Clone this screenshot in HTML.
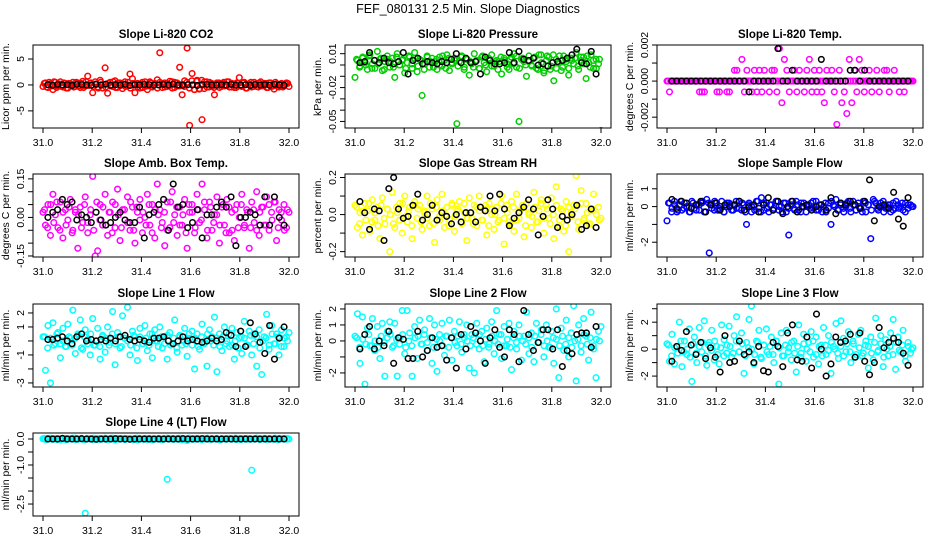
<!DOCTYPE html>
<html><head><meta charset="utf-8">
<style>
html,body{margin:0;padding:0;background:#fff;}
svg{display:block;font-family:"Liberation Sans",Arial,sans-serif;}
</style></head>
<body>
<svg id="chart" width="936" height="540" viewBox="0 0 936 540" xmlns="http://www.w3.org/2000/svg">
<text x="468" y="13" text-anchor="middle" font-size="12.5">FEF_080131  2.5 Min. Slope Diagnostics</text>
</svg>
<script>
const xTicks = [31.0,31.2,31.4,31.6,31.8,32.0];
const xTickLabels = ["31.0","31.2","31.4","31.6","31.8","32.0"];

const p1c = [-0.3,0.4,-0.5,0.2,-0.9,0.5,-0.2,0.6,-0.4,0.3,-0.6,0.2,0.5,-0.3,0.4,-0.5,0.7,-0.2,1.7,0.3,-1.5,0.6,-0.4,0.9,-0.6,3.3,-1.6,0.5,-0.3,0.8,-0.5,0.4,-0.7,0.6,-0.2,2.1,1.2,-1.5,0.3,-0.6,0.5,-0.3,-0.9,0.6,-0.4,0.3,1.0,6.2,-0.5,0.4,-0.3,0.7,-0.6,0.5,-0.2,3.4,-1.9,0.8,7.1,-7.8,2.2,-0.9,0.9,-0.7,-6.7,0.6,-0.4,0.5,-0.3,-1.9,0.4,-0.5,0.3,-0.2,0.6,-0.4,0.3,-0.5,0.4,1.4,-0.3,0.5,-0.6,0.2,-0.4,0.5,-0.3,0.4,-0.2,0.3,-0.5,0.4,-0.3,-0.8,0.2,-0.4,0.3,-0.2,0.4,-0.3];
const p1core = [0.3,-0.4,0.5,-0.2,0.6,-0.5,0.2,-0.3,0.4,-0.6,0.3,0.1,-0.4,0.5,-0.2,0.3,-0.5,0.6,-0.1,0.4,-0.3,0.2,-0.6,0.5,0.1,-0.4,0.3,-0.2,0.6,-0.5,0.4,-0.1,0.2,-0.3,0.5,-0.6,0.3,0.1,-0.4,0.2,-0.5,0.6,-0.2,0.4,-0.3,0.1,-0.6,0.5,0.2,-0.4,0.3,-0.1,0.6,-0.5,0.4,-0.2,0.1,-0.3,0.5,-0.6,0.8,-0.9,0.7,-0.8,0.9,-0.7,0.6,-0.4,0.3,-0.5,0.2,0.4,-0.3,0.5,-0.1,0.6,-0.4,0.2,-0.5,0.3,-0.2,0.4,-0.6,0.1,0.5,-0.3,0.2,-0.4,0.6,-0.1,0.3,-0.5,0.4,-0.2,0.5,-0.3,0.1,-0.4,0.2,0.3];
const p1k = [0.05,-0.05,0.1,0,0.05,-0.1,0.1,0.05,0,-0.05,0.1,0,0.15,-0.05,0.05,0,0.1,-0.1,0.05,0,0.1,0.05,-0.05,0,0.1,0,0.15,0,-0.05,0.05,0,-0.1,0.05,0.1,0,-0.05,0.05,0,0.1,-0.05,0,0.05,-0.1,0.05,0,0.05,-0.05,0.1,0,-0.05];

const p2c = [-0.011,0.004,-0.001,0.006,0.002,-0.004,0.009,0.001,-0.003,0.012,0.005,-0.005,0.003,0.008,-0.002,0.006,-0.011,0.010,0.000,0.004,-0.007,0.002,0.007,-0.003,0.011,-0.006,0.005,-0.027,0.001,0.008,-0.002,0.006,0.003,-0.004,0.007,-0.001,0.004,0.009,-0.005,0.002,0.006,-0.052,0.003,0.008,-0.002,0.005,-0.009,0.001,0.010,0.004,-0.003,0.007,0.002,-0.006,0.005,0.009,-0.001,0.004,0.003,-0.008,0.006,0.001,-0.004,0.007,0.010,-0.002,-0.050,0.005,0.003,-0.010,0.008,0.000,0.006,-0.003,0.009,0.002,-0.007,0.004,0.007,-0.001,-0.014,0.005,0.002,-0.005,0.008,0.003,-0.009,0.006,0.001,0.011,-0.004,0.004,0.007,-0.012,0.002,0.009,-0.003,0.005,0.001,-0.058];
const p2core = [0.005,-0.002,0.007,0.000,0.008,-0.003,0.004,0.001,0.006,-0.004,0.005,0.003,-0.002,0.007,0.000,0.005,-0.003,0.008,0.001,0.006,-0.001,0.004,-0.004,0.007,0.003,-0.002,0.005,0.000,0.008,-0.003,0.006,0.001,0.004,-0.001,0.007,-0.004,0.005,0.003,-0.002,0.004,-0.003,0.008,0.000,0.006,-0.001,0.003,-0.004,0.007,0.004,-0.002,0.005,0.001,0.008,-0.003,0.006,0.000,0.003,-0.001,0.007,-0.004,0.009,-0.005,0.008,-0.004,0.009,-0.003,0.008,-0.002,0.005,-0.003,0.004,0.006,-0.001,0.007,0.001,0.008,-0.002,0.004,-0.003,0.005];
const p2k = [0.002,0.003,0.011,0.004,0.002,0.006,0.002,0.001,0.003,0.011,-0.008,0.004,0.006,0.001,0.003,0.002,0.001,0.003,0.002,0.005,0.010,0.002,0.006,0.002,0.003,-0.008,0.007,0.004,0.001,0.001,0.002,0.011,0.002,0.012,0.005,0.004,0.006,0.000,0.001,-0.001,0.002,0.003,0.004,0.006,0.009,0.014,0.002,0.001,0.012,-0.008];

const p3c = [0,0,-0.0006,0,0,0,0,0,0,0,0,0,0,0,0,0,0,0,0,0,0,0,0,0,0,0,-0.0006,0,-0.0006,0,-0.0006,0,0,0,0,0,0,0,0,0,-0.0006,0,-0.0006,0,0,0,0,0,-0.0006,0,-0.0006,0,0,0,0.0006,0,0.0006,0,0,0,0.0012,0,-0.0006,0,0.0006,0,0,0,-0.0006,0,0.0006,0,-0.0006,0,0.0006,0,-0.0006,0,0.0006,0,0,0,-0.0006,0,0.0006,0,0.0006,0,-0.0006,0,0.0018,0,-0.0012,0,0.0012,0,0.0006,0,-0.0006,0,0,0,0.0006,0,-0.0006,0,0.0006,0,0,0,-0.0006,0,0.0006,0,0.0012,0,-0.0006,0,0.0006,0,-0.0006,0,0.0006,0,-0.0006,0,-0.0012,0,0.0006,0,0,0,0.0006,0,-0.0006,0,-0.0024,0,0.0006,0,-0.0012,0,-0.0006,0,-0.0018,0,0.0012,0,-0.0012,0,0.0006,0,-0.0006,0,0.0012,0,0.0006,0,-0.0006,0,0,0,0.0006,0,-0.0006,0,0,0,0.0006,0,-0.0006,0,0,0,0.0006,0,0.0006,0,-0.0006,0,0,0,0.0006,0,0,0,-0.0006,0,0,0,-0.0006,0,0,0,0,0,0,0];
const p3core = [];
const p3k = [0,0,0,0,0,0,0,0,0,0,0,0,0,0,0,0,-0.0006,0,0,0,0,0,0.0018,0,0,0.0006,0,0,0,0,0,0.0012,0,0,0,0,0,0.0006,0.0006,0,0.0006,0,0,0,0,0,0,0,0,0];

const p4c = [0.02,-0.03,0.05,-0.07,0.09,0.01,-0.04,0.06,-0.08,0.03,-0.01,0.07,-0.05,0.02,-0.12,0.04,-0.02,0.08,-0.06,0.01,0.16,-0.15,-0.13,0.05,-0.03,0.09,-0.07,0.02,0.06,-0.04,0.11,-0.09,0.03,-0.01,0.08,-0.05,0.04,-0.10,0.02,0.07,-0.06,0.00,0.09,-0.03,0.05,-0.08,0.13,0.03,-0.02,-0.11,0.06,-0.04,0.10,0.01,-0.07,0.04,-0.03,0.07,-0.12,0.02,0.05,-0.06,0.09,-0.02,0.13,0.03,-0.08,0.06,-0.05,0.01,0.08,-0.10,0.04,-0.03,0.07,-0.06,0.02,-0.09,0.05,0.00,0.09,-0.04,0.03,-0.12,0.06,-0.02,0.10,-0.07,0.04,-0.03,0.08,-0.05,0.02,0.06,-0.09,0.03,-0.01,0.05,-0.04,0.02];
const p4core = [0.03,-0.04,0.05,-0.02,0.06,-0.05,0.02,-0.03,0.04,-0.06,0.03,0.01,-0.04,0.05,-0.02,0.03,-0.05,0.06,-0.01,0.04,-0.03,0.02,-0.06,0.05,0.01,-0.04,0.03,-0.02,0.06,-0.05,0.04,-0.01,0.02,-0.03,0.05,-0.06,0.03,0.01,-0.04,0.02,-0.05,0.06,-0.02,0.04,-0.03,0.01,-0.06,0.05,0.02,-0.04,0.03,-0.01,0.06,-0.05,0.04,-0.02,0.01,-0.03,0.05,-0.06,0.04,-0.05,0.03,-0.04,0.05,-0.03,0.02,-0.04,0.03,-0.05,0.02,0.04,-0.03,0.05,-0.01,0.06,-0.04,0.02,-0.05,0.03];
const p4k = [0.00,0.02,0.03,0.07,0.05,0.06,-0.01,0.01,0.00,-0.02,0.02,-0.01,-0.03,-0.02,0.00,0.02,-0.01,-0.02,-0.02,0.04,-0.08,0.01,0.02,0.05,0.07,-0.05,0.13,0.04,0.05,-0.04,-0.02,0.03,-0.08,0.01,0.01,0.04,0.06,0.04,0.08,-0.11,0.00,0.00,0.02,0.01,-0.03,0.08,-0.03,0.08,0.00,-0.03];

const p5c = [0.05,-0.07,0.01,-0.11,0.06,0.02,-0.09,0.08,-0.03,0.04,-0.13,0.09,-0.05,0.03,-0.20,0.12,-0.07,0.01,0.06,-0.10,0.10,-0.04,0.04,-0.13,0.07,-0.02,0.05,-0.08,0.02,0.10,-0.06,0.03,-0.15,0.08,-0.01,0.11,-0.07,0.04,-0.03,0.06,-0.09,0.02,0.07,-0.05,0.01,-0.14,0.09,-0.02,0.05,-0.06,0.10,-0.03,0.03,-0.11,0.06,0.00,-0.08,0.04,-0.03,0.10,-0.16,0.05,-0.04,0.07,-0.09,0.11,-0.02,0.03,-0.12,0.06,0.00,-0.07,0.12,-0.04,0.02,0.08,-0.10,0.05,-0.02,0.09,-0.13,0.15,-0.06,0.03,-0.09,0.07,-0.20,0.01,0.05,0.21,-0.08,0.13,-0.03,0.06,-0.05,0.02,0.11,-0.07,0.04,-0.02];
const p5core = [0.04,-0.05,0.02,-0.03,0.06,-0.04,0.01,-0.06,0.05,-0.02,0.03,0.00,-0.05,0.04,-0.03,0.06,-0.01,0.02,-0.06,0.05,0.03,-0.04,0.01,-0.02,0.06,-0.05,0.04,-0.03,0.02,0.00,-0.06,0.05,-0.01,0.03,-0.04,0.06,-0.02,0.01,-0.05,0.04,0.02,-0.03,0.05,-0.06,0.03,0.00,-0.04,0.06,-0.02,0.01,-0.05,0.04,-0.03,0.02,0.05,-0.06,0.01,-0.01,0.04,-0.04,0.06,-0.02,0.03,-0.05,0.00,0.05,-0.03,0.02,-0.06,0.04,-0.01,0.03,-0.04,0.06,-0.02,0.01,-0.05,0.03,0.00,-0.03];
const p5k = [0.07,0.01,-0.08,0.03,0.02,-0.14,0.14,0.20,0.03,-0.02,-0.01,0.05,0.11,-0.03,0.00,0.05,-0.03,0.01,-0.01,-0.05,0.00,-0.04,0.01,0.01,-0.04,0.04,0.02,0.10,0.02,0.11,0.03,-0.06,-0.02,0.01,0.04,0.08,0.03,-0.11,-0.01,0.08,0.03,-0.07,-0.01,-0.03,0.00,0.05,-0.08,-0.06,0.03,-0.07];

const p6c = [-0.8,0.2,-0.1,0.3,-0.3,0.1,-0.2,0.2,0.0,-0.3,0.3,-0.1,0.1,-0.2,0.2,-0.3,0.4,-2.6,0.1,-0.2,0.2,-0.1,0.3,-0.3,0.0,0.2,-0.2,0.1,-0.1,0.3,-0.2,0.1,-1.0,0.2,-0.3,0.0,0.3,-0.1,0.5,-0.2,0.2,-0.3,0.1,-0.1,0.3,-0.2,0.0,0.2,-0.3,-1.6,0.1,-0.1,0.3,-0.2,0.2,0.0,-0.3,0.1,0.2,-0.1,0.3,-0.2,0.1,0.0,-0.3,0.2,-1.0,0.1,0.4,-0.2,0.2,-0.1,0.0,0.3,-0.3,0.1,-0.2,0.2,-0.1,0.3,-0.3,0.1,-1.8,0.4,0.2,-0.2,0.0,0.3,-0.1,0.1,-0.3,0.2,-0.1,0.1,0.0,-0.2,0.2,-0.1,0.1,0.0];
const p6core = [0.2,-0.3,0.1,-0.2,0.3,-0.1,0.0,-0.3,0.2,-0.2,0.1,0.3,-0.3,0.2,-0.1,0.3,-0.2,0.0,-0.3,0.2,0.1,-0.2,0.3,-0.1,0.2,-0.3,0.1,0.0,-0.2,0.3,-0.3,0.2,-0.1,0.1,-0.2,0.3,0.0,-0.3,0.2,-0.1,0.3,-0.2,0.1,-0.3,0.2,0.0,-0.1,0.3,-0.2,0.1,-0.3,0.2,-0.1,0.3,0.0,-0.2,0.1,-0.3,0.2,-0.1,0.3,-0.2,0.0,-0.3,0.2,0.1,-0.2,0.3,-0.1,0.2,-0.3,0.0,0.1,-0.2,0.3,-0.1,0.2,-0.3,0.1,0.0];
const p6k = [0.4,-0.1,0.3,0.2,-0.1,0.1,0.3,-0.3,0.1,0.2,-0.2,0.1,0.0,0.1,0.3,-0.2,0.0,0.1,-0.3,0.1,0.5,-0.2,0.3,-0.4,0.0,0.3,-0.3,0.0,0.1,-0.2,0.0,0.1,-0.2,0.5,-0.4,0.2,0.1,0.3,0.1,-0.1,0.3,1.5,-0.8,0.0,0.1,-0.1,0.8,-0.7,-1.1,0.5];

const p7c = [0.3,-2.1,1.1,-3.0,1.3,-0.2,0.6,-1.2,0.9,-0.4,1.2,0.2,2.2,-0.9,0.5,1.5,-0.6,0.8,0.1,-1.0,1.6,-0.3,0.9,-1.3,0.4,-0.8,1.0,-0.1,2.1,-1.7,0.6,-0.5,1.8,0.2,2.4,-1.0,0.7,0.3,-1.4,0.9,-0.2,1.1,-0.7,0.5,-1.2,0.8,0.0,1.0,-0.5,0.3,-1.3,0.6,-0.2,1.5,-0.8,0.4,-0.3,0.9,-1.1,0.2,0.7,-2.0,0.5,-0.6,1.2,-0.1,-1.8,0.8,0.3,1.7,-2.2,0.5,-0.7,1.0,0.0,-0.4,0.9,-1.3,0.6,0.2,-0.9,1.4,-0.3,0.7,-1.0,0.4,-1.8,0.8,-2.4,0.3,1.9,-0.6,1.1,-0.2,0.5,-1.0,0.8,-0.4,0.3,0.6];
const p7core = [0.3,-0.5,0.2,-0.3,0.5,-0.2,0.0,-0.4,0.3,-0.3,0.2,0.4,-0.5,0.3,-0.2,0.5,-0.3,0.0,-0.4,0.3,0.2,-0.3,0.5,-0.2,0.3,-0.4,0.2,0.0,-0.3,0.4,-0.5,0.3,-0.2,0.2,-0.3,0.5,0.0,-0.4,0.3,-0.2,0.4,-0.3,0.2,-0.5,0.3,0.0,-0.2,0.5,-0.3,0.2,-0.4,0.3,-0.2,0.5,0.0,-0.3,0.2,-0.4,0.3,-0.2,0.5,-0.3,0.0,-0.5,0.3,0.2,-0.3,0.4,-0.2,0.3,-0.5,0.0,0.2,-0.3,0.5,-0.2,0.3,-0.4,0.2,0.0];
const p7k = [0.1,0.1,0.2,0.3,0.0,-0.2,0.3,0.5,0.0,0.1,0.0,0.1,0.0,0.2,0.0,0.3,0.4,0.1,0.0,0.1,0.0,-0.1,0.2,0.2,0.3,0.0,-0.2,0.0,0.3,0.0,0.1,0.0,-0.1,0.0,0.2,0.0,0.1,0.6,0.4,-0.4,0.7,-0.4,1.3,0.5,-0.1,-0.9,1.1,-1.3,0.2,1.0];

const p8c = [0.3,1.7,-1.4,1.5,-2.7,0.8,-0.3,1.4,-0.6,0.9,-1.1,1.1,-2.2,0.6,1.2,-0.4,1.1,-2.2,0.2,1.9,-0.8,1.9,0.5,-2.2,0.9,-1.1,1.3,-0.2,0.7,-0.6,1.4,-1.4,1.0,-1.9,0.4,1.1,-0.9,0.3,1.3,-1.2,0.6,-0.3,1.2,-0.7,0.2,1.0,-1.7,0.4,-2.0,1.1,-0.5,0.6,-1.3,0.8,-0.2,1.2,-0.8,1.9,0.4,-1.1,0.9,-0.3,1.1,-1.8,0.6,-0.5,1.0,-1.2,0.3,1.8,-0.8,0.5,-1.3,1.1,-0.1,0.7,-1.0,1.0,-0.4,0.6,-1.4,2.0,-2.3,0.8,-0.6,1.3,-1.0,0.5,2.2,-2.5,1.0,-0.7,1.4,0.3,-1.2,1.8,-0.5,-2.3,0.6,0.9];
const p8core = [0.2,-0.4,0.1,-0.2,0.4,-0.3,0.0,-0.4,0.3,-0.1,0.2,0.4,-0.3,0.1,-0.2,0.4,-0.4,0.0,-0.3,0.2,0.3,-0.2,0.4,-0.1,0.2,-0.4,0.1,0.0,-0.3,0.3,-0.4,0.2,-0.1,0.3,-0.2,0.4,0.0,-0.3,0.2,-0.2,0.4,-0.3,0.1,-0.4,0.3,0.0,-0.2,0.4,-0.3,0.1,-0.4,0.2,-0.1,0.3,0.0,-0.2,0.2,-0.4,0.3,-0.1,0.4,-0.3,0.0,-0.4,0.2,0.1,-0.3,0.3,-0.2,0.2,-0.4,0.0,0.1,-0.3,0.4,-0.2,0.2,-0.3,0.1,0.0];
const p8k = [-0.5,0.4,0.9,-0.5,0.0,-0.3,0.6,-1.4,0.2,0.1,-1.1,-1.1,0.6,-1.0,-0.6,0.2,-0.4,-0.3,-1.2,0.2,-1.7,0.4,-0.5,0.9,0.5,0.0,-1.4,0.2,0.7,-0.4,-1.0,0.7,0.4,-1.3,1.9,0.4,-0.6,-0.1,0.7,0.7,-0.5,0.7,-1.6,-0.6,-0.8,0.4,0.5,0.5,-0.4,0.9];

const p9c = [0.4,-0.9,1.1,-1.1,0.2,2.0,-1.3,0.6,-0.4,1.5,-2.4,0.9,-1.0,1.6,-0.2,2.1,-1.2,0.5,1.4,-0.8,0.2,-1.1,1.8,0.7,-0.3,1.7,-0.6,1.0,2.4,-0.2,1.2,-1.8,0.5,2.2,3.2,-1.1,0.6,1.4,-0.7,0.3,1.5,-0.4,0.9,-1.0,0.6,-2.6,1.2,-0.5,1.4,0.1,-0.8,0.6,-1.7,1.8,-0.3,1.1,-0.9,0.5,1.3,-0.6,0.9,-1.1,0.3,1.6,-0.4,1.0,-1.8,0.2,1.9,-0.7,2.1,0.8,-0.2,1.3,-1.0,0.4,-0.6,1.1,1.4,-0.3,0.6,-1.4,0.9,-0.8,2.3,-0.1,1.0,-1.3,0.7,-0.5,1.2,2.2,-1.5,0.9,-0.2,1.4,-0.9,0.5,-0.3,0.1];
const p9core = [0.3,-0.5,0.1,-0.3,0.6,-0.2,0.0,-0.6,0.4,-0.3,0.2,0.5,-0.5,0.3,-0.1,0.6,-0.4,0.1,-0.5,0.3,0.2,-0.3,0.6,-0.2,0.4,-0.5,0.1,0.0,-0.4,0.5,-0.6,0.3,-0.2,0.2,-0.4,0.6,0.1,-0.5,0.3,-0.2,0.5,-0.3,0.2,-0.6,0.4,0.0,-0.2,0.6,-0.4,0.2,-0.5,0.3,-0.1,0.5,0.0,-0.3,0.2,-0.5,0.4,-0.2,0.6,-0.4,0.1,-0.5,0.3,0.2,-0.3,0.5,-0.2,0.4,-0.6,0.0,0.2,-0.4,0.5,-0.1,0.3,-0.5,0.2,0.0];
const p9k = [-0.9,0.2,-0.1,1.3,0.3,-0.4,0.5,-0.7,0.1,-0.6,-1.7,1.0,-1.0,-0.9,0.6,-0.4,-0.2,-1.0,0.2,-1.6,-1.7,0.5,0.2,-1.3,1.2,1.8,-0.8,-0.9,0.9,-1.4,2.6,0.0,-2.0,-1.1,0.9,0.5,0.6,1.1,-0.6,1.2,-0.9,-1.9,-1.0,1.6,0.1,0.5,0.8,0.5,-0.3,-1.2];

const p10c = [0.01,-0.02,0.02,0,-0.01,0.02,0.01,-0.03,0,0.02,-0.01,0.01,0.03,-0.02,0,0.01,-0.01,-2.85,0.02,0,-0.02,0.01,0.02,-0.01,0,0.03,-0.02,0.01,0,-0.01,0.02,0,0.01,-0.02,0.02,0,-0.01,0.01,-0.03,0.02,0,0.01,-0.02,0.02,0,-0.01,0.01,0.02,-0.02,0,-1.55,0.01,0.02,-0.01,0,0.03,-0.02,0.01,-0.06,0.02,0,-0.01,0.02,0.01,-0.02,0,0.02,-0.01,0.01,0,0.02,-0.02,0.01,0,-0.01,0.02,0,0.01,-0.02,0.01,0,0.02,-0.01,0,-1.2,0.01,0.02,-0.01,0,0.02,-0.02,0.01,0,0.01,-0.01,0.02,0,0.01,-0.01,0];
const p10core = [0.02,-0.01,0.03,0,-0.02,0.01,0.02,-0.03,0.01,0,0.03,-0.01,0.02,-0.02,0,0.01,0.03,-0.02,0,0.02,-0.01,0.01,0.03,-0.03,0,0.02,-0.01,0.01,0.02,-0.02,0.03,0,-0.01,0.02,0.01,-0.03,0,0.02,-0.02,0.01,0.03,0,-0.01,0.02,-0.02,0.01,0,0.03,-0.01,0.02,0,-0.02,0.01,0.03,-0.01,0,0.02,-0.03,0.01,0,0.02,-0.01,0.03,0,-0.02,0.01,0.02,-0.01,0,0.03,-0.02,0.01,0.02,0,-0.01,0.03,-0.02,0.01,0,0.02];
const p10k = [0,0,0,0.02,0,0,0,0.01,0,0,-0.01,0,0,0,0.01,0,0,-0.01,0,0,0,0,0,0,0,0,0,0,0.01,0,0,0,0.01,0,0,0,0,0,0,0,0,0,0,0,0,0,0,0,0,0];

const panels = [
 {name:"co2",title:"Slope Li-820 CO2",ylab:"Licor ppm per min.",col:0,row:0,ymin:-8.3,ymax:7.7,ticks:[-5,0,5],labels:{"-5":"-5","0":"0","5":"5"},color:"#ff0000",c:p1c,core:p1core,k:p1k},
 {name:"pressure",title:"Slope Li-820 Pressure",ylab:"kPa per min.",col:1,row:0,ymin:-0.0558,ymax:0.0177,ticks:[0.01,0,-0.01,-0.02,-0.03,-0.04,-0.05],labels:{"0.01":"0.01","-0.02":"-0.02","-0.05":"-0.05"},color:"#00cd00",c:p2c,core:p2core,k:p2k},
 {name:"licor-temp",title:"Slope Li-820 Temp.",ylab:"degrees C per min.",col:2,row:0,ymin:-0.0026,ymax:0.002,ticks:[-0.002,-0.001,0,0.001,0.002],labels:{"-0.002":"-0.002","0":"0.000","0.002":"0.002"},color:"#ff00ff",c:p3c,core:p3core,k:p3k},
 {name:"amb-box-temp",title:"Slope Amb. Box Temp.",ylab:"degrees C per min.",col:0,row:1,ymin:-0.154,ymax:0.169,ticks:[-0.15,-0.1,-0.05,0,0.05,0.1,0.15],labels:{"-0.15":"-0.15","0":"0.00","0.15":"0.15"},color:"#ff00ff",c:p4c,core:p4core,k:p4k},
 {name:"gas-stream-rh",title:"Slope Gas Stream RH",ylab:"percent per min.",col:1,row:1,ymin:-0.229,ymax:0.219,ticks:[-0.2,-0.1,0,0.1,0.2],labels:{"-0.2":"-0.2","0":"0.0","0.2":"0.2"},color:"#ffff00",c:p5c,core:p5core,k:p5k},
 {name:"sample-flow",title:"Slope Sample Flow",ylab:"ml/min per min.",col:2,row:1,ymin:-2.83,ymax:1.83,ticks:[-2,-1,0,1],labels:{"-2":"-2","0":"0","1":"1"},color:"#0000ff",c:p6c,core:p6core,k:p6k},
 {name:"line1-flow",title:"Slope Line 1 Flow",ylab:"ml/min per min.",col:0,row:2,ymin:-3.29,ymax:2.64,ticks:[-3,-2,-1,0,1,2],labels:{"-3":"-3","-1":"-1","1":"1","2":"2"},color:"#00ffff",c:p7c,core:p7core,k:p7k},
 {name:"line2-flow",title:"Slope Line 2 Flow",ylab:"ml/min per min.",col:1,row:2,ymin:-2.88,ymax:2.31,ticks:[-2,-1,0,1,2],labels:{"-2":"-2","0":"0","1":"1","2":"2"},color:"#00ffff",c:p8c,core:p8core,k:p8k},
 {name:"line3-flow",title:"Slope Line 3 Flow",ylab:"ml/min per min.",col:2,row:2,ymin:-2.81,ymax:3.35,ticks:[-2,-1,0,1,2,3],labels:{"-2":"-2","0":"0","2":"2"},color:"#00ffff",c:p9c,core:p9core,k:p9k},
 {name:"line4-flow",title:"Slope Line 4 (LT) Flow",ylab:"ml/min per min.",col:0,row:3,ymin:-2.96,ymax:0.23,ticks:[0,-0.5,-1,-1.5,-2,-2.5],labels:{"0":"0.0","-1":"-1.0","-2.5":"-2.5"},color:"#00ffff",c:p10c,core:p10core,k:p10k}
];

const NS="http://www.w3.org/2000/svg";
const svg=document.getElementById('chart');
const colLeft=[33,345,657], rowTop=[45,174,304,433], W=266, H=83;
function mk(tag,attrs,parent){const e=document.createElementNS(NS,tag);for(const a in attrs)e.setAttribute(a,attrs[a]);parent.appendChild(e);return e;}

panels.forEach(p=>{
  const L=colLeft[p.col], T=rowTop[p.row], R=L+W, B=T+H;
  const xs=v=>L+10+(v-31)*(W-20);
  const ys=v=>B-(v-p.ymin)/(p.ymax-p.ymin)*H;
  const g=mk('g',{},svg);
  
  
  const t=mk('text',{x:(L+R)/2,y:T-7,'text-anchor':'middle','font-size':'11.5','font-weight':'bold'},g);
  t.textContent=p.title;
  
  
  const yl=mk('text',{x:0,y:0,'text-anchor':'middle','font-size':'10.5',transform:`translate(${L-24},${(T+B)/2}) rotate(-90)`},g);
  yl.textContent=p.ylab;
  
  
  const xa=mk('g',{},g);
  
  
  xTicks.forEach((v,i)=>{
    mk('line',{x1:xs(v),x2:xs(v),y1:B,y2:B+5,stroke:'#000','stroke-width':1},xa);
    const tl=mk('text',{x:xs(v),y:B+18,'text-anchor':'middle','font-size':'10.5'},xa);
    tl.textContent=xTickLabels[i];
    
    
  });
  const ya=mk('g',{},g);
  
  
  p.ticks.forEach(v=>{
    const y=ys(v);
    mk('line',{x1:L-5,x2:L,y1:y,y2:y,stroke:'#000','stroke-width':1},ya);
    const key=String(v);
    if(p.labels[key]!==undefined){
      const tl=mk('text',{x:0,y:0,'text-anchor':'middle','font-size':'10.5',transform:`translate(${L-9},${y}) rotate(-90)`},ya);
      tl.textContent=p.labels[key];
      
      
    }
  });
  const clip='clip-'+p.name;
  const cp=mk('clipPath',{id:clip},g);mk('rect',{x:L,y:T,width:W,height:H},cp);
  const pts=mk('g',{'clip-path':`url(#${clip})`},g);
  const sc=mk('g',{fill:'none',stroke:p.color,'stroke-width':1.5},pts);
  
  
  const n=p.c.length;
  p.c.forEach((v,i)=>{
    const x=31+i/(n-1);
    const c=mk('circle',{cx:xs(x),cy:ys(v),r:2.8},sc);
    
    
  });
  const nc=p.core.length;
  p.core.forEach((v,i)=>{
    const x=31+(i+0.5)/nc;
    const c=mk('circle',{cx:xs(x),cy:ys(v),r:2.8},sc);
    
    
  });
  const sk=mk('g',{fill:'none',stroke:'#000','stroke-width':1.5},pts);
  
  
  const m=p.k.length;
  p.k.forEach((v,i)=>{
    const x=31.02+i*0.96/(m-1);
    const c=mk('circle',{cx:xs(x),cy:ys(v),r:2.8},sk);
    
    
  });
  const box=mk('rect',{x:L,y:T,width:W,height:H,fill:'none',stroke:'#000','stroke-width':1},g);
  
  
});
</script>
</body></html>
